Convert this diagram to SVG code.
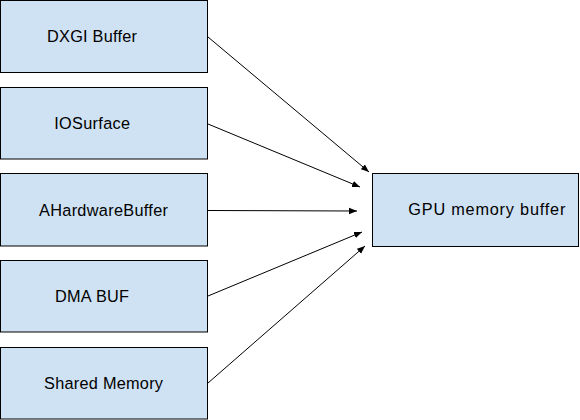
<svg xmlns="http://www.w3.org/2000/svg" width="580" height="420" viewBox="0 0 580 420">
  <defs>
    <style>
      .box { fill: #cfe2f3; stroke: #000000; stroke-width: 1; }
      .lbl { font-family: "Liberation Sans", Arial, sans-serif; font-size: 16.3px; fill: #000000; }
      .conn { stroke: #000000; stroke-width: 1; fill: none; marker-end: url(#arrow); }
    </style>
    <marker id="arrow" viewBox="0 0 10 10" refX="10" refY="5" markerWidth="8" markerHeight="8" markerUnits="userSpaceOnUse" orient="auto">
      <path d="M0,1 L10,5 L0,9 z" fill="#000000"/>
    </marker>
  </defs>
  <rect width="580" height="420" fill="#ffffff"/>
  <g id="dxgi">
    <rect class="box" x="0.5" y="0.5" width="207" height="72"/>
    <text class="lbl" x="47" y="42" textLength="90" lengthAdjust="spacing">DXGI Buffer</text>
  </g>
  <g id="iosurface">
    <rect class="box" x="0.5" y="87.5" width="207" height="71.5"/>
    <text class="lbl" x="54.3" y="128.5" textLength="75.7" lengthAdjust="spacing">IOSurface</text>
  </g>
  <g id="ahardwarebuffer">
    <rect class="box" x="0.5" y="173.5" width="207" height="72.5"/>
    <text class="lbl" x="39" y="215.7" textLength="129" lengthAdjust="spacing">AHardwareBuffer</text>
  </g>
  <g id="dmabuf">
    <rect class="box" x="0.5" y="260.5" width="207" height="71.5"/>
    <text class="lbl" x="55" y="302.3" textLength="74" lengthAdjust="spacing">DMA BUF</text>
  </g>
  <g id="sharedmemory">
    <rect class="box" x="0.5" y="347.5" width="207" height="71.5"/>
    <text class="lbl" x="44" y="389" textLength="119" lengthAdjust="spacing">Shared Memory</text>
  </g>
  <g id="gpumemorybuffer">
    <rect class="box" x="372.5" y="173.5" width="206" height="73"/>
    <text class="lbl" x="408.3" y="215" textLength="157" lengthAdjust="spacing">GPU memory buffer</text>
  </g>
  <g id="connectors">
    <line class="conn" x1="208" y1="37" x2="369" y2="172"/>
    <line class="conn" x1="208" y1="124" x2="360" y2="187"/>
    <line class="conn" x1="208" y1="210.5" x2="357" y2="211"/>
    <line class="conn" x1="208" y1="296" x2="362" y2="232"/>
    <line class="conn" x1="208" y1="383" x2="365" y2="246"/>
  </g>
</svg>
